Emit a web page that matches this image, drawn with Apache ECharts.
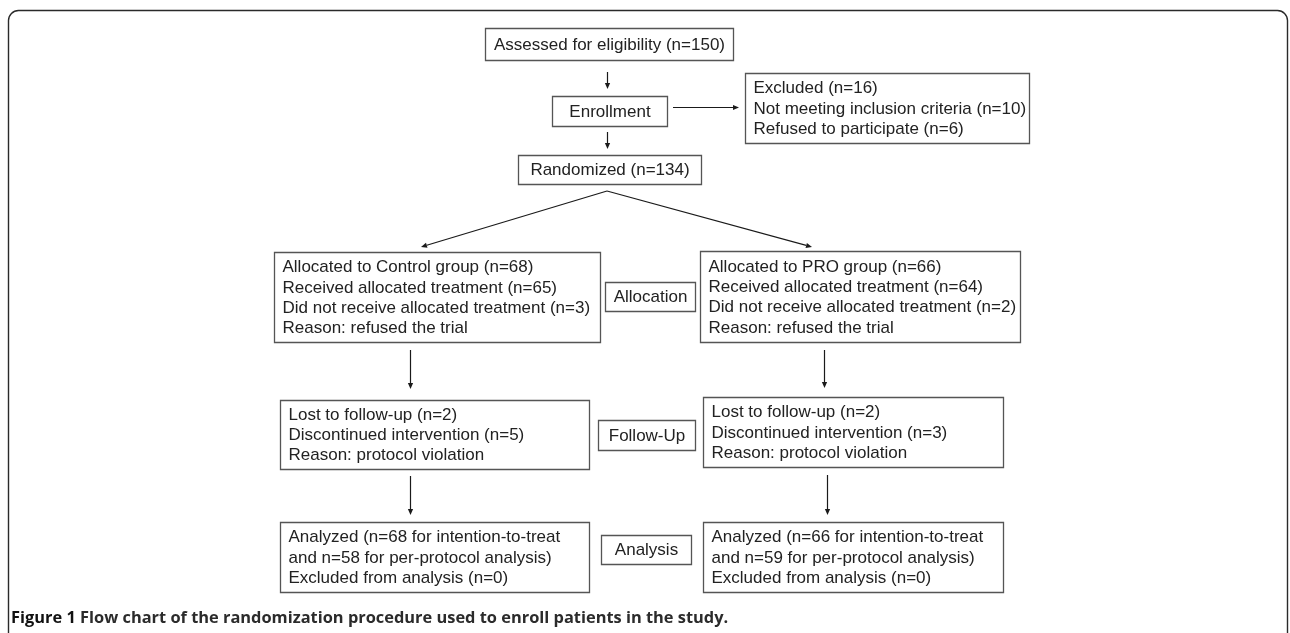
<!DOCTYPE html>
<html>
<head>
<meta charset="utf-8">
<style>
  html, body { margin: 0; padding: 0; background: #fff; }
  #chart { width: 1290px; height: 633px; }
</style>
<script src="https://cdn.jsdelivr.net/npm/echarts@6/dist/echarts.min.js"></script>
</head>
<body>
<div id="chart"></div>
<script>
// ---- content (texts of the flow chart) ----
const boxTexts = [
  ['Assessed for eligibility (n=150)'],
  ['Enrollment'],
  ['Excluded (n=16)', 'Not meeting inclusion criteria (n=10)', 'Refused to participate (n=6)'],
  ['Randomized (n=134)'],
  ['Allocated to Control group (n=68)', 'Received allocated treatment (n=65)', 'Did not receive allocated treatment (n=3)', 'Reason: refused the trial'],
  ['Allocation'],
  ['Allocated to PRO group (n=66)', 'Received allocated treatment (n=64)', 'Did not receive allocated treatment (n=2)', 'Reason: refused the trial'],
  ['Lost to follow-up (n=2)', 'Discontinued intervention (n=5)', 'Reason: protocol violation'],
  ['Follow-Up'],
  ['Lost to follow-up (n=2)', 'Discontinued intervention (n=3)', 'Reason: protocol violation'],
  ['Analyzed (n=68 for intention-to-treat', 'and n=58 for per-protocol analysis)', 'Excluded from analysis (n=0)'],
  ['Analysis'],
  ['Analyzed (n=66 for intention-to-treat', 'and n=59 for per-protocol analysis)', 'Excluded from analysis (n=0)']
];
const captionBold = 'Figure 1';
const captionText = ' Flow chart of the randomization procedure used to enroll patients in the study.';

// ---- layout (chart-space coordinates: x0, y0, x1, y1, text alignment) ----
const boxLayout = [
  [485, 28, 733, 60, 'center'],
  [552, 96, 667, 126, 'center'],
  [745, 73, 1029, 143, 'left'],
  [518, 155, 701, 184, 'center'],
  [274, 252, 600, 342, 'left'],
  [605, 282, 695, 311, 'center'],
  [700, 251, 1020, 342, 'left'],
  [280, 400, 589, 469, 'left'],
  [598, 420, 695, 450, 'center'],
  [703, 397, 1003, 467, 'left'],
  [280, 522, 589, 592, 'left'],
  [601, 535, 691, 564, 'center'],
  [703, 522, 1003, 592, 'left']
];
// arrows: from (x1,y1) to (x2,y2), head at the end
const arrows = [
  [607, 72, 607, 89],
  [607, 132, 607, 149],
  [673, 107, 739, 107],
  [607, 191, 421, 247],
  [607, 191, 812, 247],
  [410, 350, 410, 389],
  [824, 350, 824, 388],
  [410, 476, 410, 515],
  [827, 475, 827, 515]
];

const FONT = '17px "Liberation Sans", Arial, sans-serif';
const CAPTION_FONT = 'bold 16.4px "Open Sans", "Noto Sans", sans-serif';

const chart = echarts.init(document.getElementById('chart'), null, { renderer: 'canvas' });

function crisp(v) { return Math.round(v) + 0.5; }

const option = {
  animation: false,
  grid: { left: 0, right: 0, top: 0, bottom: 0 },
  xAxis: { type: 'value', min: 0, max: 1290, show: false },
  yAxis: { type: 'value', min: 0, max: 633, inverse: true, show: false },
  graphic: [
    {
      type: 'rect',
      shape: { x: 8.5, y: 10.5, width: 1279, height: 700, r: 10 },
      style: { fill: 'none', stroke: '#2a2a2a', lineWidth: 1.4 },
      z: 1
    },
    {
      type: 'text',
      x: 11, y: 618,
      style: {
        text: '{a|' + captionBold + '}{b|' + captionText + '}',
        verticalAlign: 'middle',
        rich: {
          a: { font: CAPTION_FONT, fill: '#111' },
          b: { font: CAPTION_FONT, fill: '#2b2b2b' }
        }
      },
      z: 5
    }
  ],
  series: [
    {
      type: 'custom',
      name: 'boxes',
      coordinateSystem: 'cartesian2d',
      data: boxLayout.map(b => [b[0], b[1], b[2], b[3]]),
      encode: { x: [0, 2], y: [1, 3] },
      silent: true,
      renderItem: function (params, api) {
        const i = params.dataIndex;
        const p0 = api.coord([api.value(0), api.value(1)]);
        const p1 = api.coord([api.value(2), api.value(3)]);
        const x0 = crisp(p0[0]), y0 = crisp(p0[1]);
        const x1 = crisp(p1[0]), y1 = crisp(p1[1]);
        const align = boxLayout[i][4];
        const tx = align === 'center' ? (x0 + x1) / 2 : x0 + 8;
        return {
          type: 'group',
          children: [
            {
              type: 'rect',
              shape: { x: x0, y: y0, width: x1 - x0, height: y1 - y0 },
              style: { fill: '#fff', stroke: '#555', lineWidth: 1.3 }
            },
            {
              type: 'text',
              style: {
                text: boxTexts[i].join('\n'),
                x: tx,
                y: (y0 + y1) / 2 + 0.5,
                align: align,
                verticalAlign: 'middle',
                lineHeight: 20.3,
                font: FONT,
                fill: '#222'
              }
            }
          ]
        };
      }
    },
    {
      type: 'custom',
      name: 'arrows',
      coordinateSystem: 'cartesian2d',
      data: arrows,
      encode: { x: [0, 2], y: [1, 3] },
      silent: true,
      renderItem: function (params, api) {
        const a = api.coord([api.value(0), api.value(1)]);
        const b = api.coord([api.value(2), api.value(3)]);
        const dx = b[0] - a[0], dy = b[1] - a[1];
        const len = Math.sqrt(dx * dx + dy * dy);
        const ux = dx / len, uy = dy / len;
        const hl = 6, hw = 2.6;
        const bx = b[0] - ux * hl, by = b[1] - uy * hl;
        const ax = Math.abs(ux) < 0.01 ? Math.round(a[0]) + 0.5 : a[0];
        const ay = Math.abs(uy) < 0.01 ? Math.round(a[1]) + 0.5 : a[1];
        const ex = Math.abs(ux) < 0.01 ? ax : b[0];
        const ey = Math.abs(uy) < 0.01 ? ay : b[1];
        const bx2 = Math.abs(ux) < 0.01 ? ax : bx;
        const by2 = Math.abs(uy) < 0.01 ? ay : by;
        return {
          type: 'group',
          children: [
            {
              type: 'line',
              shape: { x1: ax, y1: ay, x2: bx2, y2: by2 },
              style: { stroke: '#1a1a1a', lineWidth: 1.2 }
            },
            {
              type: 'polygon',
              shape: {
                points: [
                  [ex, ey],
                  [bx2 - uy * hw, by2 + ux * hw],
                  [bx2 + uy * hw, by2 - ux * hw]
                ]
              },
              style: { fill: '#1a1a1a', stroke: 'none' }
            }
          ]
        };
      }
    }
  ]
};
chart.setOption(option);
</script>
</body>
</html>
